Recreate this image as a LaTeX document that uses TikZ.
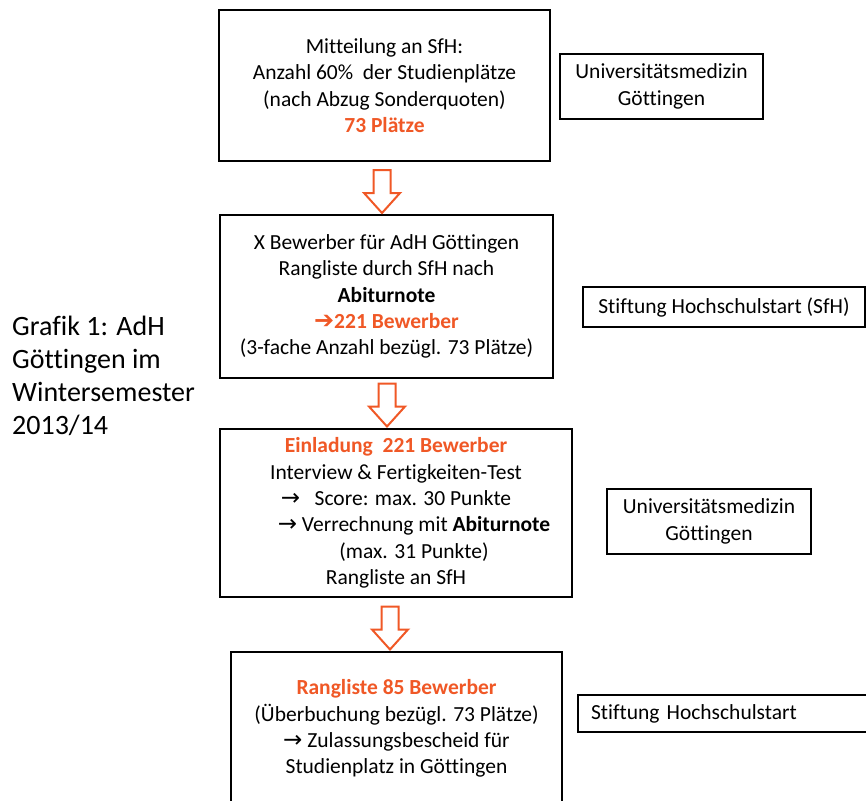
\documentclass[tikz,border=0pt]{standalone}
\usepackage{fontspec}
\setmainfont{Carlito}[Ligatures=NoCommon]
\newfontfamily\arrowfont{DejaVu Sans}

\definecolor{adhorange}{RGB}{240,88,38}

\tikzset{
  stepbox/.style={rectangle,
      draw = black,
      line width = 2bp,
      fill = white,
      align = center,
      inner sep = 0pt,
      font = \fontsize{21.5bp}{26.3bp}\selectfont},
  sidebox/.style={stepbox},
  hollowarrow/.pic={
      \draw[adhorange, line width = 2bp, fill = white, line join = miter]
        (-8.5,-21.5) -- (8.5,-21.5) -- (8.5,1.5) -- (18,1.5)
        -- (0,21.5) -- (-18,1.5) -- (-8.5,1.5) -- cycle;
  },
}

\newcommand{\hl}[1]{\textcolor{adhorange}{\textbf{#1}}}
\newcommand{\thinra}{{\arrowfont\fontsize{23bp}{23bp}\selectfont →}}
\newcommand{\boldra}{{\arrowfont\fontsize{24bp}{24bp}\selectfont ➔}}

\begin{document}
\begin{tikzpicture}[x=1bp, y=-1bp]
\useasboundingbox (0,0) rectangle (866,801);
\clip (0,0) rectangle (866,801);

% caption
\node[anchor = north west,
    align = left,
    inner sep = 0pt,
    font = \fontsize{28bp}{33bp}\selectfont] (grafik) at (12,316)
    {Grafik 1: AdH\\Göttingen im\\Wintersemester\\2013/14};

% steps
\node[stepbox,
    minimum width = 331bp,
    minimum height = 151bp] (mitteilung) at (384.5,85.5)
    {Mitteilung an SfH:\\
     Anzahl 60\%\ \ der Studienplätze\\
     (nach Abzug Sonderquoten)\\
     \hl{73 Plätze}};

\node[stepbox,
    minimum width = 333bp,
    minimum height = 163bp] (rangliste) at (386.5,296.5)
    {X Bewerber für AdH Göttingen\\
     Rangliste durch SfH nach\\
     \textbf{Abiturnote}\\
     \textcolor{adhorange}{\boldra\textbf{221 Bewerber}}\\
     (3-fache Anzahl bezügl. 73 Plätze)};

\node[stepbox,
    minimum width = 352bp,
    minimum height = 168bp] (einladung) at (396,513)
    {\hl{Einladung\ \ 221 Bewerber}\\
     Interview \& Fertigkeiten-Test\\
     \thinra\ \ \ Score: max. 30 Punkte\\
     \hspace*{36bp}\thinra\ Verrechnung mit \textbf{Abiturnote}\\
     \hspace*{36bp}(max. 31 Punkte)\\
     Rangliste an SfH};

\node[stepbox,
    minimum width = 331bp,
    minimum height = 153bp] (zulassung) at (396.5,728.5)
    {\hl{Rangliste 85 Bewerber}\\
     (Überbuchung bezügl. 73 Plätze)\\
     \thinra\ Zulassungsbescheid für\\
     Studienplatz in Göttingen};

% hollow arrows
\pic (pfeileins) at (382,191.5) {hollowarrow};
\pic (pfeilzwei) at (387,405) {hollowarrow};
\pic (pfeildrei) at (390,628) {hollowarrow};

% who does what
\node[sidebox,
    minimum width = 203bp,
    minimum height = 65bp] (umg) at (661.5,86.5)
    {Universitätsmedizin\\Göttingen};

\node[sidebox,
    minimum width = 282bp,
    minimum height = 40bp] (sfh) at (724,307)
    {Stiftung Hochschulstart (SfH)};

\node[sidebox,
    minimum width = 204bp,
    minimum height = 65bp] (umgzwei) at (709,521.5)
    {Universitätsmedizin\\Göttingen};

\node[sidebox,
    anchor = west,
    align = left,
    text width = 307bp,
    inner xsep = 13bp,
    minimum height = 37bp] (sfhzwei) at (577,713.5)
    {Stiftung Hochschulstart};

\end{tikzpicture}
\end{document}
